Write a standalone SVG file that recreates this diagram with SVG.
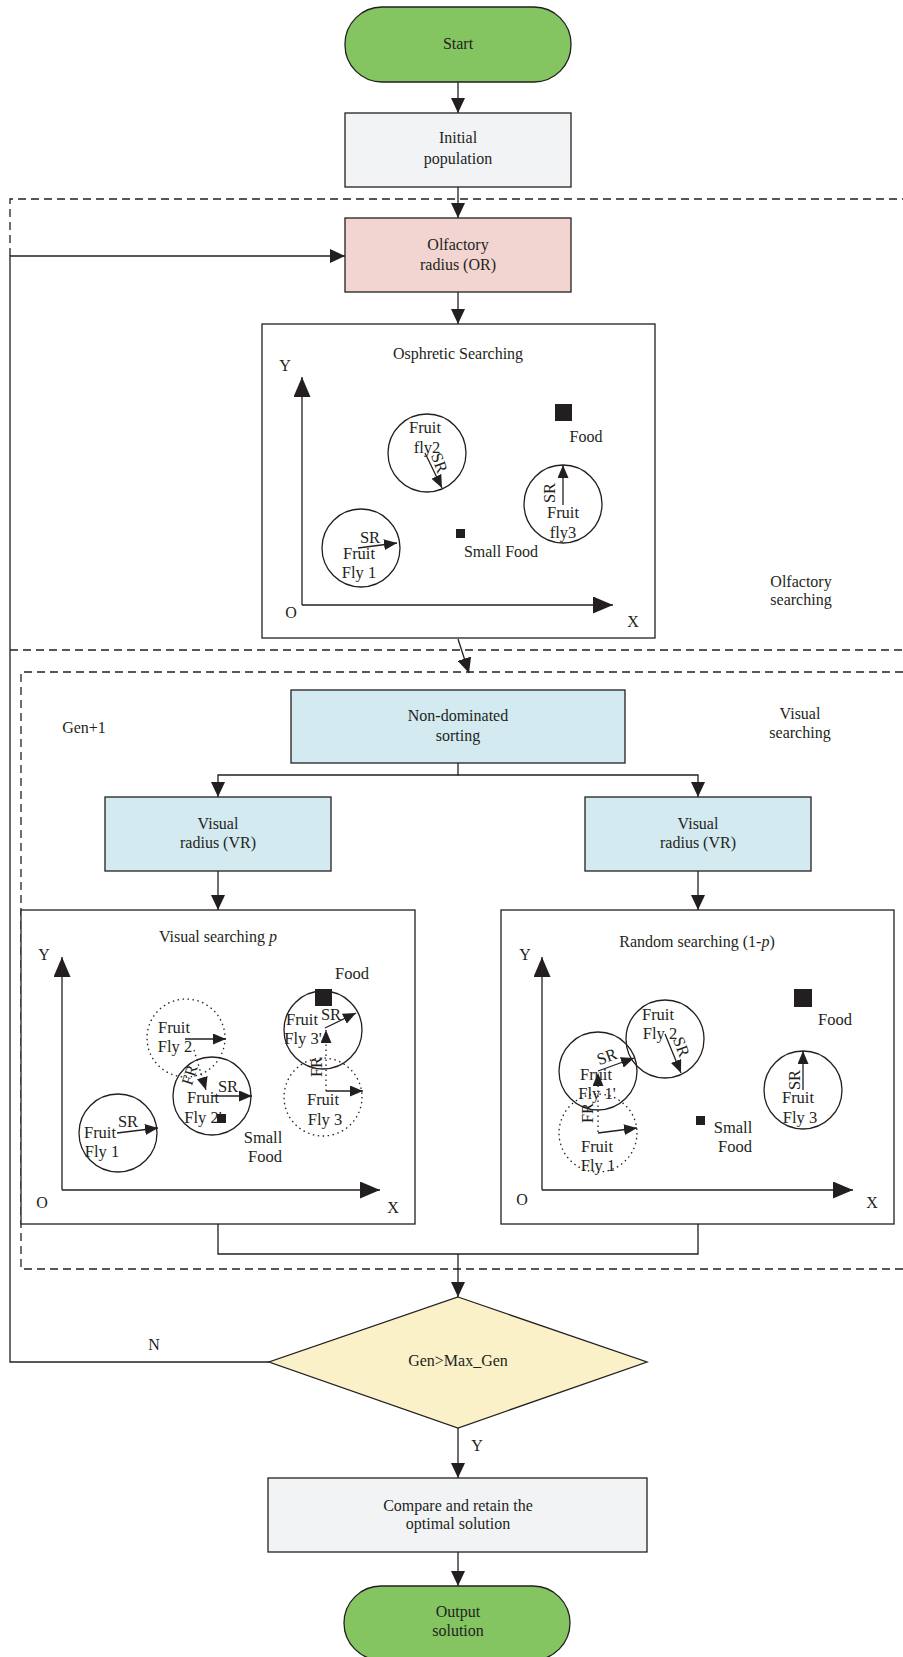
<svg xmlns="http://www.w3.org/2000/svg" width="903" height="1657" viewBox="0 0 903 1657">
<style>
text{font-family:"Liberation Serif","Times New Roman",serif;font-size:16px;fill:#231f20;text-anchor:middle}
.b{stroke:#231f20;stroke-width:1.3}
.ln{fill:none;stroke:#231f20;stroke-width:1.3}
.dash{fill:none;stroke:#231f20;stroke-width:1.3;stroke-dasharray:8 5}
.c{fill:none;stroke:#231f20;stroke-width:1.3}
.dc{fill:none;stroke:#231f20;stroke-width:1.3;stroke-dasharray:1.5 3.5}
.sq{fill:#231f20}
.fl{font-size:16.5px}
</style>
<defs>
<marker id="ah" markerUnits="userSpaceOnUse" markerWidth="15" markerHeight="14" refX="15" refY="7" orient="auto"><path d="M0,0 L15,7 L0,14 z" fill="#231f20"/></marker>
<marker id="ax" markerUnits="userSpaceOnUse" markerWidth="20" markerHeight="17" refX="20" refY="8.5" orient="auto"><path d="M0,0 L20,8.5 L0,17 z" fill="#231f20"/></marker>
<marker id="sa" markerUnits="userSpaceOnUse" markerWidth="13" markerHeight="11" refX="13" refY="5.5" orient="auto"><path d="M0,0 L13,5.5 L0,11 z" fill="#231f20"/></marker>
</defs>
<rect width="903" height="1657" fill="#fff"/>

<g id="regions">
<path class="dash" d="M10,256 V199 H903"/>
<path class="dash" d="M10,650 H903"/>
<path class="dash" d="M903,672 H21 V1269 H903"/>
<text x="801" y="587">Olfactory</text>
<text x="801" y="605">searching</text>
<text x="800" y="719">Visual</text>
<text x="800" y="738">searching</text>
<text x="84" y="733">Gen+1</text>
</g>

<g id="connectors">
<line class="ln" x1="458" y1="82" x2="458" y2="113" marker-end="url(#ah)"/>
<line class="ln" x1="458" y1="187" x2="458" y2="218" marker-end="url(#ah)"/>
<line class="ln" x1="458" y1="292" x2="458" y2="324" marker-end="url(#ah)"/>
<line class="ln" x1="458" y1="639" x2="469" y2="673" marker-end="url(#ah)"/>
<path class="ln" d="M458,763 V775 H218 V797" marker-end="url(#ah)"/>
<path class="ln" d="M458,775 H698 V797" marker-end="url(#ah)"/>
<line class="ln" x1="218" y1="871" x2="218" y2="910" marker-end="url(#ah)"/>
<line class="ln" x1="698" y1="871" x2="698" y2="910" marker-end="url(#ah)"/>
<path class="ln" d="M218,1224 V1254 H698 V1224"/>
<line class="ln" x1="458" y1="1254" x2="458" y2="1297" marker-end="url(#ah)"/>
<path class="ln" d="M269,1362 H10 V256 H345" marker-end="url(#ah)"/>
<text x="154" y="1350">N</text>
<line class="ln" x1="458" y1="1428" x2="458" y2="1478" marker-end="url(#ah)"/>
<text x="477" y="1451">Y</text>
<line class="ln" x1="458" y1="1552" x2="458" y2="1586" marker-end="url(#ah)"/>
</g>

<g id="start">
<rect class="b" x="345" y="7" width="226" height="75" rx="37" fill="#84c562"/>
<text x="458" y="49">Start</text>
</g>
<g id="initial">
<rect class="b" x="345" y="113" width="226" height="74" fill="#f2f3f5"/>
<text x="458" y="143">Initial</text>
<text x="458" y="164">population</text>
</g>
<g id="olfactory">
<rect class="b" x="345" y="218" width="226" height="74" fill="#f2d5d1"/>
<text x="458" y="250">Olfactory</text>
<text x="458" y="270">radius (OR)</text>
</g>

<g id="osphretic">
<rect class="b" x="262" y="324" width="393" height="314" fill="#fff"/>
<text x="458" y="359">Osphretic Searching</text>
<line class="ln" x1="302" y1="605" x2="302" y2="377" marker-end="url(#ax)"/>
<line class="ln" x1="302" y1="605" x2="613" y2="605" marker-end="url(#ax)"/>
<text x="285" y="371">Y</text>
<text x="291" y="618">O</text>
<text x="633" y="627">X</text>
<rect class="sq" x="555" y="404" width="17" height="17"/>
<text x="586" y="442">Food</text>
<rect class="sq" x="456" y="529" width="9" height="9"/>
<text x="501" y="557">Small Food</text>
<circle class="c" cx="427" cy="453" r="39"/>
<text class="fl" x="425" y="433">Fruit</text>
<text class="fl" x="427" y="453">fly2</text>
<line class="ln" x1="425" y1="453" x2="442" y2="488" marker-end="url(#sa)"/>
<text class="fl" transform="translate(439,463) rotate(70)" dy="5">SR</text>
<circle class="c" cx="361" cy="548" r="39"/>
<text class="fl" x="370" y="543">SR</text>
<line class="ln" x1="358" y1="548" x2="397" y2="543" marker-end="url(#sa)"/>
<text class="fl" x="359" y="559">Fruit</text>
<text class="fl" x="359" y="578">Fly 1</text>
<circle class="c" cx="563" cy="504" r="39"/>
<line class="ln" x1="563" y1="505" x2="563" y2="465" marker-end="url(#sa)"/>
<text class="fl" transform="translate(550,493) rotate(-90)" dy="5">SR</text>
<text class="fl" x="563" y="518">Fruit</text>
<text class="fl" x="563" y="538">fly3</text>
</g>

<g id="nondominated">
<rect class="b" x="291" y="690" width="334" height="73" fill="#d3eaf0"/>
<text x="458" y="721">Non-dominated</text>
<text x="458" y="741">sorting</text>
</g>
<g id="vr-left">
<rect class="b" x="105" y="797" width="226" height="74" fill="#d3eaf0"/>
<text x="218" y="829">Visual</text>
<text x="218" y="848">radius (VR)</text>
</g>
<g id="vr-right">
<rect class="b" x="585" y="797" width="226" height="74" fill="#d3eaf0"/>
<text x="698" y="829">Visual</text>
<text x="698" y="848">radius (VR)</text>
</g>

<g id="visual-search">
<rect class="b" x="21" y="910" width="394" height="314" fill="#fff"/>
<text x="218" y="942">Visual searching <tspan font-style="italic">p</tspan></text>
<line class="ln" x1="62" y1="1190" x2="62" y2="957" marker-end="url(#ax)"/>
<line class="ln" x1="62" y1="1190" x2="380" y2="1190" marker-end="url(#ax)"/>
<text x="44" y="960">Y</text>
<text x="42" y="1208">O</text>
<text x="393" y="1213">X</text>
<circle class="c" cx="118" cy="1133" r="39"/>
<text class="fl" x="128" y="1127">SR</text>
<line class="ln" x1="117" y1="1133" x2="158" y2="1128" marker-end="url(#sa)"/>
<text class="fl" x="100" y="1138">Fruit</text>
<text class="fl" x="102" y="1157">Fly 1</text>
<circle class="dc" cx="186" cy="1038" r="39"/>
<text class="fl" x="174" y="1033">Fruit</text>
<text class="fl" x="175" y="1052">Fly 2</text>
<line class="ln" x1="185" y1="1039" x2="226" y2="1039" marker-end="url(#sa)"/>
<circle class="c" cx="212" cy="1096" r="39"/>
<line class="dc" x1="194" y1="1050" x2="206" y2="1090" marker-end="url(#sa)"/>
<text class="fl" transform="translate(190,1075) rotate(-72)" dy="5">FR</text>
<text class="fl" x="228" y="1092">SR</text>
<line class="ln" x1="212" y1="1096" x2="252" y2="1096" marker-end="url(#sa)"/>
<text class="fl" x="203" y="1103">Fruit</text>
<text class="fl" x="203" y="1123">Fly 2'</text>
<rect class="sq" x="217" y="1114" width="9" height="9"/>
<text class="fl" x="263" y="1143">Small</text>
<text class="fl" x="265" y="1162">Food</text>
<circle class="c" cx="323" cy="1030" r="39"/>
<rect class="sq" x="315" y="989" width="17" height="17"/>
<text class="fl" x="352" y="979">Food</text>
<text class="fl" x="302" y="1025">Fruit</text>
<text class="fl" x="303" y="1044">Fly 3'</text>
<text class="fl" x="331" y="1020">SR</text>
<line class="ln" x1="325" y1="1028" x2="356" y2="1013" marker-end="url(#sa)"/>
<circle class="dc" cx="323" cy="1097" r="39"/>
<line class="dc" x1="326" y1="1091" x2="326" y2="1030" marker-end="url(#sa)"/>
<text class="fl" transform="translate(317,1067) rotate(-90)" dy="5">FR</text>
<line class="ln" x1="326" y1="1091" x2="363" y2="1091" marker-end="url(#sa)"/>
<text class="fl" x="323" y="1105">Fruit</text>
<text class="fl" x="325" y="1125">Fly 3</text>
</g>

<g id="random-search">
<rect class="b" x="501" y="910" width="393" height="314" fill="#fff"/>
<text x="697" y="947">Random searching (1-<tspan font-style="italic">p</tspan>)</text>
<line class="ln" x1="542" y1="1190" x2="542" y2="957" marker-end="url(#ax)"/>
<line class="ln" x1="542" y1="1190" x2="853" y2="1190" marker-end="url(#ax)"/>
<text x="525" y="960">Y</text>
<text x="522" y="1205">O</text>
<text x="872" y="1208">X</text>
<circle class="c" cx="598" cy="1071" r="39"/>
<text class="fl" transform="translate(607,1057) rotate(-20)" dy="5">SR</text>
<line class="ln" x1="598" y1="1071" x2="634" y2="1058" marker-end="url(#sa)"/>
<text class="fl" x="596" y="1080">Fruit</text>
<text class="fl" x="597" y="1099">Fly 1'</text>
<circle class="dc" cx="598" cy="1133" r="39"/>
<line class="dc" x1="598" y1="1132" x2="598" y2="1073" marker-end="url(#sa)"/>
<text class="fl" transform="translate(588,1113) rotate(-90)" dy="5">FR</text>
<line class="ln" x1="598" y1="1133" x2="637" y2="1128" marker-end="url(#sa)"/>
<text class="fl" x="597" y="1152">Fruit</text>
<text class="fl" x="598" y="1171">Fly 1</text>
<circle class="c" cx="665" cy="1039" r="39"/>
<text class="fl" x="658" y="1020">Fruit</text>
<text class="fl" x="660" y="1039">Fly 2</text>
<text class="fl" transform="translate(681,1047) rotate(70)" dy="5">SR</text>
<line class="ln" x1="665" y1="1034" x2="681" y2="1073" marker-end="url(#sa)"/>
<circle class="c" cx="803" cy="1090" r="39"/>
<line class="ln" x1="803" y1="1090" x2="803" y2="1051" marker-end="url(#sa)"/>
<text class="fl" transform="translate(795,1080) rotate(-90)" dy="5">SR</text>
<text class="fl" x="798" y="1103">Fruit</text>
<text class="fl" x="800" y="1123">Fly 3</text>
<rect class="sq" x="794" y="989" width="18" height="18"/>
<text class="fl" x="835" y="1025">Food</text>
<rect class="sq" x="696" y="1116" width="9" height="9"/>
<text class="fl" x="733" y="1133">Small</text>
<text class="fl" x="735" y="1152">Food</text>
</g>

<g id="decision">
<polygon class="b" points="458,1297 647,1362 458,1428 269,1362" fill="#faf1c8"/>
<text x="458" y="1366">Gen&gt;Max_Gen</text>
</g>
<g id="compare">
<rect class="b" x="268" y="1478" width="379" height="74" fill="#f2f3f5"/>
<text x="458" y="1511">Compare and retain the</text>
<text x="458" y="1529">optimal solution</text>
</g>
<g id="output">
<rect class="b" x="344" y="1586" width="226" height="74" rx="37" fill="#84c562"/>
<text x="458" y="1617">Output</text>
<text x="458" y="1636">solution</text>
</g>
</svg>
